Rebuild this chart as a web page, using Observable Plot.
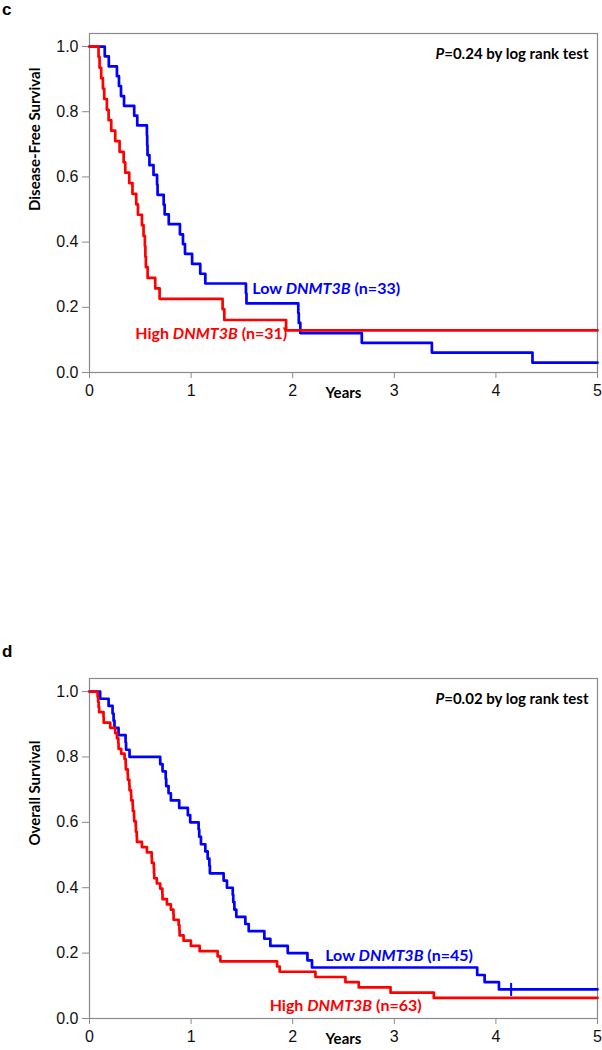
<!DOCTYPE html>
<html>
<head>
<meta charset="utf-8">
<script src="https://cdn.jsdelivr.net/npm/d3@7"></script>
<script src="https://cdn.jsdelivr.net/npm/@observablehq/plot@0.6"></script>
<style>
  html, body { margin: 0; padding: 0; background: #fff; }
  #wrap { position: relative; width: 602px; height: 1050px; overflow: hidden; background: #fff; }
  .panel { position: absolute; left: 0; }
  .plab { position: absolute; left: 2px; font: bold 17px "Liberation Sans", Arial, sans-serif; color: #000; line-height: 20px; }
</style>
</head>
<body>
<div id="wrap"></div>
<script>
// ---------- data ----------
const xTicks = [0, 1, 2, 3, 4, 5];
const yTicks = [0, 0.2, 0.4, 0.6, 0.8, 1.0];

// Panel c: Disease-free survival
const cLowTime = [0, 0.15, 0.19, 0.27, 0.29, 0.31, 0.34, 0.44, 0.47, 0.565, 0.568, 0.571, 0.59, 0.63, 0.665, 0.67, 0.73, 0.74, 0.78, 0.89, 0.92, 0.94, 1.01, 1.09, 1.14, 1.54, 1.545, 2.055, 2.06, 2.075, 2.68, 3.37, 4.36, 5.0];
const cLowSurv = [1.000, 0.970, 0.939, 0.909, 0.879, 0.848, 0.818, 0.788, 0.758, 0.727, 0.697, 0.667, 0.636, 0.606, 0.576, 0.545, 0.515, 0.485, 0.455, 0.424, 0.394, 0.364, 0.333, 0.303, 0.273, 0.242, 0.212, 0.182, 0.152, 0.121, 0.091, 0.061, 0.030, 0.030];
const cHighTime = [0, 0.089, 0.099, 0.115, 0.132, 0.145, 0.171, 0.188, 0.214, 0.253, 0.296, 0.336, 0.352, 0.391, 0.423, 0.460, 0.477, 0.516, 0.532, 0.545, 0.550, 0.555, 0.572, 0.647, 0.690, 1.310, 1.327, 1.935, 5.0];
const cHighSurv = [1.000, 0.968, 0.935, 0.903, 0.871, 0.839, 0.806, 0.774, 0.742, 0.710, 0.677, 0.645, 0.613, 0.581, 0.548, 0.516, 0.484, 0.452, 0.419, 0.387, 0.355, 0.323, 0.290, 0.258, 0.226, 0.194, 0.161, 0.129, 0.129];
const cLowCensor = [];

// Panel d: Overall survival
const dLowTime = [0, 0.105, 0.188, 0.227, 0.237, 0.246, 0.286, 0.355, 0.360, 0.394, 0.696, 0.719, 0.750, 0.755, 0.778, 0.801, 0.883, 0.968, 0.991, 1.074, 1.080, 1.097, 1.140, 1.163, 1.180, 1.185, 1.320, 1.353, 1.410, 1.415, 1.426, 1.445, 1.534, 1.567, 1.721, 1.780, 1.951, 2.145, 2.190, 3.816, 3.889, 4.030, 5.0];
const dLowSurv = [1.000, 0.978, 0.956, 0.933, 0.911, 0.889, 0.867, 0.844, 0.822, 0.800, 0.778, 0.756, 0.733, 0.711, 0.689, 0.667, 0.644, 0.622, 0.600, 0.578, 0.556, 0.533, 0.511, 0.489, 0.467, 0.444, 0.422, 0.400, 0.378, 0.356, 0.333, 0.311, 0.289, 0.267, 0.244, 0.222, 0.200, 0.178, 0.156, 0.133, 0.111, 0.089, 0.089];
const dHighTime = [0, 0.080, 0.085, 0.090, 0.095, 0.138, 0.140, 0.204, 0.253, 0.270, 0.284, 0.286, 0.312, 0.345, 0.356, 0.358, 0.376, 0.378, 0.392, 0.394, 0.409, 0.411, 0.425, 0.427, 0.438, 0.440, 0.455, 0.457, 0.465, 0.467, 0.516, 0.565, 0.612, 0.614, 0.633, 0.635, 0.637, 0.663, 0.696, 0.717, 0.719, 0.762, 0.801, 0.826, 0.828, 0.877, 0.885, 0.887, 0.926, 0.998, 1.084, 1.261, 1.288, 1.846, 1.872, 2.224, 2.519, 2.650, 2.963, 3.389, 5.0];
const dHighSurv = [1.000, 0.984, 0.968, 0.952, 0.937, 0.921, 0.905, 0.889, 0.873, 0.857, 0.841, 0.825, 0.810, 0.794, 0.778, 0.762, 0.746, 0.730, 0.714, 0.698, 0.683, 0.667, 0.651, 0.635, 0.619, 0.603, 0.587, 0.571, 0.556, 0.540, 0.524, 0.508, 0.492, 0.476, 0.460, 0.444, 0.429, 0.413, 0.397, 0.381, 0.365, 0.349, 0.333, 0.317, 0.302, 0.286, 0.270, 0.254, 0.238, 0.222, 0.206, 0.190, 0.175, 0.159, 0.143, 0.127, 0.111, 0.095, 0.079, 0.063, 0.063];
const dLowCensor = [4.15];
const dLowCensorSurv = [0.089];

// Text
const cYLabel = "Disease-Free Survival";
const dYLabel = "Overall Survival";
const xLabel = "Years";
const cPText = "P=0.24 by log rank test";
const dPText = "P=0.02 by log rank test";
const cLowLabel = "Low DNMT3B (n=33)";
const cHighLabel = "High DNMT3B (n=31)";
const dLowLabel = "Low DNMT3B (n=45)";
const dHighLabel = "High DNMT3B (n=63)";

// ---------- drawing ----------
const BLUE = "#0000ff", RED = "#ff0000", GRAY = "#8a8a8a";
const LABEL_FONT = "Lato, 'Open Sans', sans-serif";
const zip = (ts, ss) => ts.map((t, i) => ({t, s: ss[i]}));
const vbar = {draw(ctx, size) { const h = Math.sqrt(size / Math.PI); ctx.moveTo(0, -h); ctx.lineTo(0, h); }};

function panel(o) {
  const marks = [
    Plot.frame({stroke: GRAY, strokeWidth: 1.2}),
    Plot.axisX({ticks: xTicks, tickFormat: d3.format("d"), tickSize: 6, tickPadding: 6, stroke: GRAY, label: null, fontSize: 16, fill: "#111"}),
    Plot.axisY({ticks: yTicks, tickFormat: d3.format(".1f"), tickSize: 7, tickPadding: 4, stroke: GRAY, label: null, fontSize: 16, fill: "#111"}),
    Plot.line(o.low, {x: "t", y: "s", curve: "step-after", stroke: BLUE, strokeWidth: 2.7}),
    Plot.line(o.high, {x: "t", y: "s", curve: "step-after", stroke: RED, strokeWidth: 2.7}),
    Plot.text([o.yLabel], {frameAnchor: "left", rotate: -90, dx: -54, dy: o.yLabelDy, fontWeight: "bold", fontSize: 15, fontFamily: LABEL_FONT, fill: "#000"}),
    Plot.text([xLabel], {frameAnchor: "bottom", dy: 25, fontWeight: "bold", fontSize: 15, fontFamily: LABEL_FONT, fill: "#000"}),
    Plot.text([o.pText], {frameAnchor: "top-right", textAnchor: "end", dx: -9, dy: 15, fontWeight: "bold", fontSize: 15, fontFamily: LABEL_FONT, fill: "#000"}),
    Plot.text([o.lowLabel], {x: o.lowPos[0], y: o.lowPos[1], textAnchor: "start", fill: BLUE, fontWeight: "bold", fontSize: 16, fontFamily: LABEL_FONT}),
    Plot.text([o.highLabel], {x: o.highPos[0], y: o.highPos[1], textAnchor: "start", fill: RED, fontWeight: "bold", fontSize: 16, fontFamily: LABEL_FONT})
  ];
  if (o.censor.length) {
    marks.push(Plot.dot(zip(o.censor, o.censorSurv), {x: "t", y: "s", symbol: vbar, r: 6.5, stroke: BLUE, strokeWidth: 2, fill: "none"}));
  }
  const svg = Plot.plot({
    width: 602, height: o.height,
    marginLeft: 89, marginRight: 5, marginTop: 33, marginBottom: o.marginBottom,
    style: {fontFamily: "'Liberation Sans', Arial, sans-serif", fontSize: "16px", background: "transparent", overflow: "visible"},
    x: {domain: [0, 5]},
    y: {domain: [0, 1.04]},
    marks
  });
  // italic parts of labels
  d3.select(svg).selectAll("text").each(function() {
    const t = this.textContent;
    let parts = null;
    if (t.includes("DNMT3B")) {
      const [a, b] = t.split("DNMT3B");
      parts = [[a, false], ["DNMT3B", true], [b, false]];
    } else if (t.startsWith("P=")) {
      parts = [["P", true], [t.slice(1), false]];
    }
    if (parts) {
      this.textContent = "";
      for (const [s, it] of parts) {
        const ts = d3.select(this).append("tspan").text(s);
        if (it) ts.attr("font-style", "italic");
      }
    }
  });
  return svg;
}

const wrap = document.getElementById("wrap");

const svgC = panel({
  low: zip(cLowTime, cLowSurv), high: zip(cHighTime, cHighSurv),
  censor: cLowCensor, censorSurv: [],
  yLabel: cYLabel, yLabelDy: 8, pText: cPText,
  lowLabel: cLowLabel, highLabel: cHighLabel,
  lowPos: [1.603, 0.258], highPos: [0.450, 0.120],
  height: 405, marginBottom: 33
});
svgC.classList.add("panel"); svgC.style.top = "0px";
wrap.appendChild(svgC);

const svgD = panel({
  low: zip(dLowTime, dLowSurv), high: zip(dHighTime, dHighSurv),
  censor: dLowCensor, censorSurv: dLowCensorSurv,
  yLabel: dYLabel, yLabelDy: -3, pText: dPText,
  lowLabel: dLowLabel, highLabel: dHighLabel,
  lowPos: [2.32, 0.192], highPos: [1.773, 0.039],
  height: 405, marginBottom: 32
});
svgD.classList.add("panel"); svgD.style.top = "645px";
wrap.appendChild(svgD);

const labC = document.createElement("div"); labC.className = "plab"; labC.textContent = "c"; labC.style.top = "0px"; wrap.appendChild(labC);
const labD = document.createElement("div"); labD.className = "plab"; labD.textContent = "d"; labD.style.top = "642px"; wrap.appendChild(labD);
</script>
</body>
</html>
